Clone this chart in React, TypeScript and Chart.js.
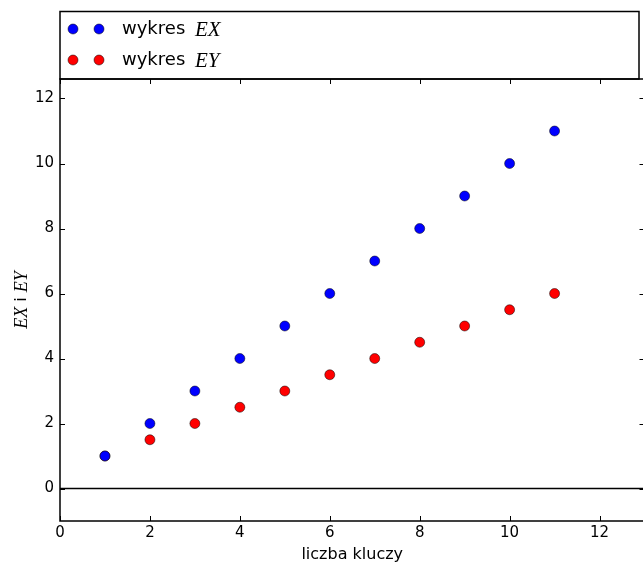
import React, { useEffect, useRef } from "react";
import { Chart, registerables } from "chart.js";

Chart.register(...registerables);

const keys = [1, 2, 3, 4, 5, 6, 7, 8, 9, 10, 11];
const seriesEX = [1, 2, 3, 4, 5, 6, 7, 8, 9, 10, 11];
const seriesEY = [1, 1.5, 2, 2.5, 3, 3.5, 4, 4.5, 5, 5.5, 6];
const xTicks = [0, 2, 4, 6, 8, 10, 12];
const yTicks = [0, 2, 4, 6, 8, 10, 12];
const legendLabels = ["EX", "EY"];
const xTitle = "liczba kluczy";

const BLUE = "#0000ff";
const RED = "#ff0000";
const SANS = "'DejaVu Sans', sans-serif";
const SERIF = "'Liberation Serif', serif";

const decorPlugin = {
  id: "decor",
  beforeDatasetsDraw(chart: any) {
    const { ctx, chartArea, scales } = chart;
    const y0 = scales.y.getPixelForValue(0);
    ctx.save();
    ctx.strokeStyle = "#000";
    ctx.lineWidth = 1.5;
    ctx.beginPath();
    ctx.moveTo(chartArea.left, y0);
    ctx.lineTo(chartArea.right, y0);
    ctx.stroke();
    ctx.restore();
  },
  afterDraw(chart: any) {
    const { ctx, chartArea, scales } = chart;
    const { left, right, top, bottom } = chartArea;
    ctx.save();
    ctx.strokeStyle = "#000";
    ctx.lineWidth = 1.5;
    ctx.strokeRect(left, top, right - left, bottom - top);
    ctx.lineWidth = 1;
    ctx.beginPath();
    for (const v of xTicks) {
      const px = Math.round(scales.x.getPixelForValue(v)) + 0.5;
      ctx.moveTo(px, bottom);
      ctx.lineTo(px, bottom - 5);
      ctx.moveTo(px, top);
      ctx.lineTo(px, top + 5);
    }
    for (const v of yTicks) {
      const py = Math.round(scales.y.getPixelForValue(v)) + 0.5;
      ctx.moveTo(left, py);
      ctx.lineTo(left + 5, py);
      ctx.moveTo(right, py);
      ctx.lineTo(right - 5, py);
    }
    ctx.stroke();

    // x tick labels
    ctx.fillStyle = "#000";
    ctx.font = `15px ${SANS}`;
    ctx.textAlign = "center";
    ctx.textBaseline = "middle";
    for (const v of xTicks) {
      ctx.fillText(String(v), scales.x.getPixelForValue(v), 533);
    }

    // legend box
    ctx.lineWidth = 1.5;
    ctx.strokeRect(left, 11.5, 639 - left, top - 11.5);
    const rows = [29, 60];
    const colors = [BLUE, RED];
    rows.forEach((ry, i) => {
      for (const mx of [73, 99]) {
        ctx.beginPath();
        ctx.arc(mx, ry, 5, 0, Math.PI * 2);
        ctx.fillStyle = colors[i];
        ctx.fill();
        ctx.lineWidth = 0.5;
        ctx.strokeStyle = "#000";
        ctx.stroke();
      }
      ctx.fillStyle = "#000";
      ctx.textBaseline = "middle";
      ctx.textAlign = "left";
      ctx.font = `18px ${SANS}`;
      ctx.fillText("wykres", 122, ry);
      ctx.font = `italic 21px ${SERIF}`;
      ctx.fillText(legendLabels[i], 195, ry + 1);
    });

    // x title
    ctx.font = `16px ${SANS}`;
    ctx.textAlign = "center";
    ctx.textBaseline = "middle";
    ctx.fillStyle = "#000";
    ctx.fillText(xTitle, (left + right) / 2, 555);

    // y title (rotated)
    ctx.translate(22, (top + bottom) / 2);
    ctx.rotate(-Math.PI / 2);
    const parts: [string, string][] = [
      ["EX", `italic 18px ${SERIF}`],
      [" i ", `16px ${SANS}`],
      ["EY", `italic 18px ${SERIF}`],
    ];
    let total = 0;
    for (const [t, f] of parts) {
      ctx.font = f;
      total += ctx.measureText(t).width;
    }
    let cx = -total / 2;
    ctx.textAlign = "left";
    for (const [t, f] of parts) {
      ctx.font = f;
      ctx.fillText(t, cx, 0);
      cx += ctx.measureText(t).width;
    }
    ctx.restore();
  },
};

export default function App() {
  const ref = useRef<HTMLCanvasElement | null>(null);
  useEffect(() => {
    document.body.style.margin = "0";
    document.body.style.overflow = "hidden";
    if (!ref.current) return;
    const mk = (vals: number[]) => keys.map((x, i) => ({ x, y: vals[i] }));
    const chart = new Chart(ref.current, {
      type: "scatter",
      data: {
        datasets: [
          {
            label: "EX",
            data: mk(seriesEX),
            pointRadius: 5,
            pointBackgroundColor: BLUE,
            pointBorderColor: "#000",
            pointBorderWidth: 0.5,
          },
          {
            label: "EY",
            data: mk(seriesEY),
            pointRadius: 5,
            pointBackgroundColor: RED,
            pointBorderColor: "#000",
            pointBorderWidth: 0.5,
          },
        ],
      },
      options: {
        animation: false,
        responsive: true,
        maintainAspectRatio: false,
        layout: { padding: { top: 79, right: 2, left: 0, bottom: 0 } },
        plugins: { legend: { display: false }, tooltip: { enabled: false } },
        scales: {
          x: {
            type: "linear",
            min: 0,
            max: 13,
            grid: { display: false, drawTicks: false },
            border: { display: false },
            ticks: { display: false },
            afterBuildTicks: (s: any) => {
              s.ticks = xTicks.map((v) => ({ value: v }));
            },
            afterFit: (s: any) => {
              s.height = 45;
              s.paddingLeft = 0;
              s.paddingRight = 0;
            },
          },
          y: {
            type: "linear",
            min: -1,
            max: 12.6,
            grid: { display: false, drawTicks: false },
            border: { display: false },
            ticks: { color: "#000", font: { family: SANS, size: 15 }, padding: 6 },
            afterBuildTicks: (s: any) => {
              s.ticks = yTicks.map((v) => ({ value: v }));
            },
            afterFit: (s: any) => {
              s.width = 60;
            },
          },
        },
      },
      plugins: [decorPlugin],
    });
    return () => chart.destroy();
  }, []);
  return (
    <div style={{ width: 643, height: 566, overflow: "hidden", position: "relative" }}>
      <div style={{ width: 650, height: 566, position: "relative" }}>
        <canvas ref={ref} />
      </div>
    </div>
  );
}
